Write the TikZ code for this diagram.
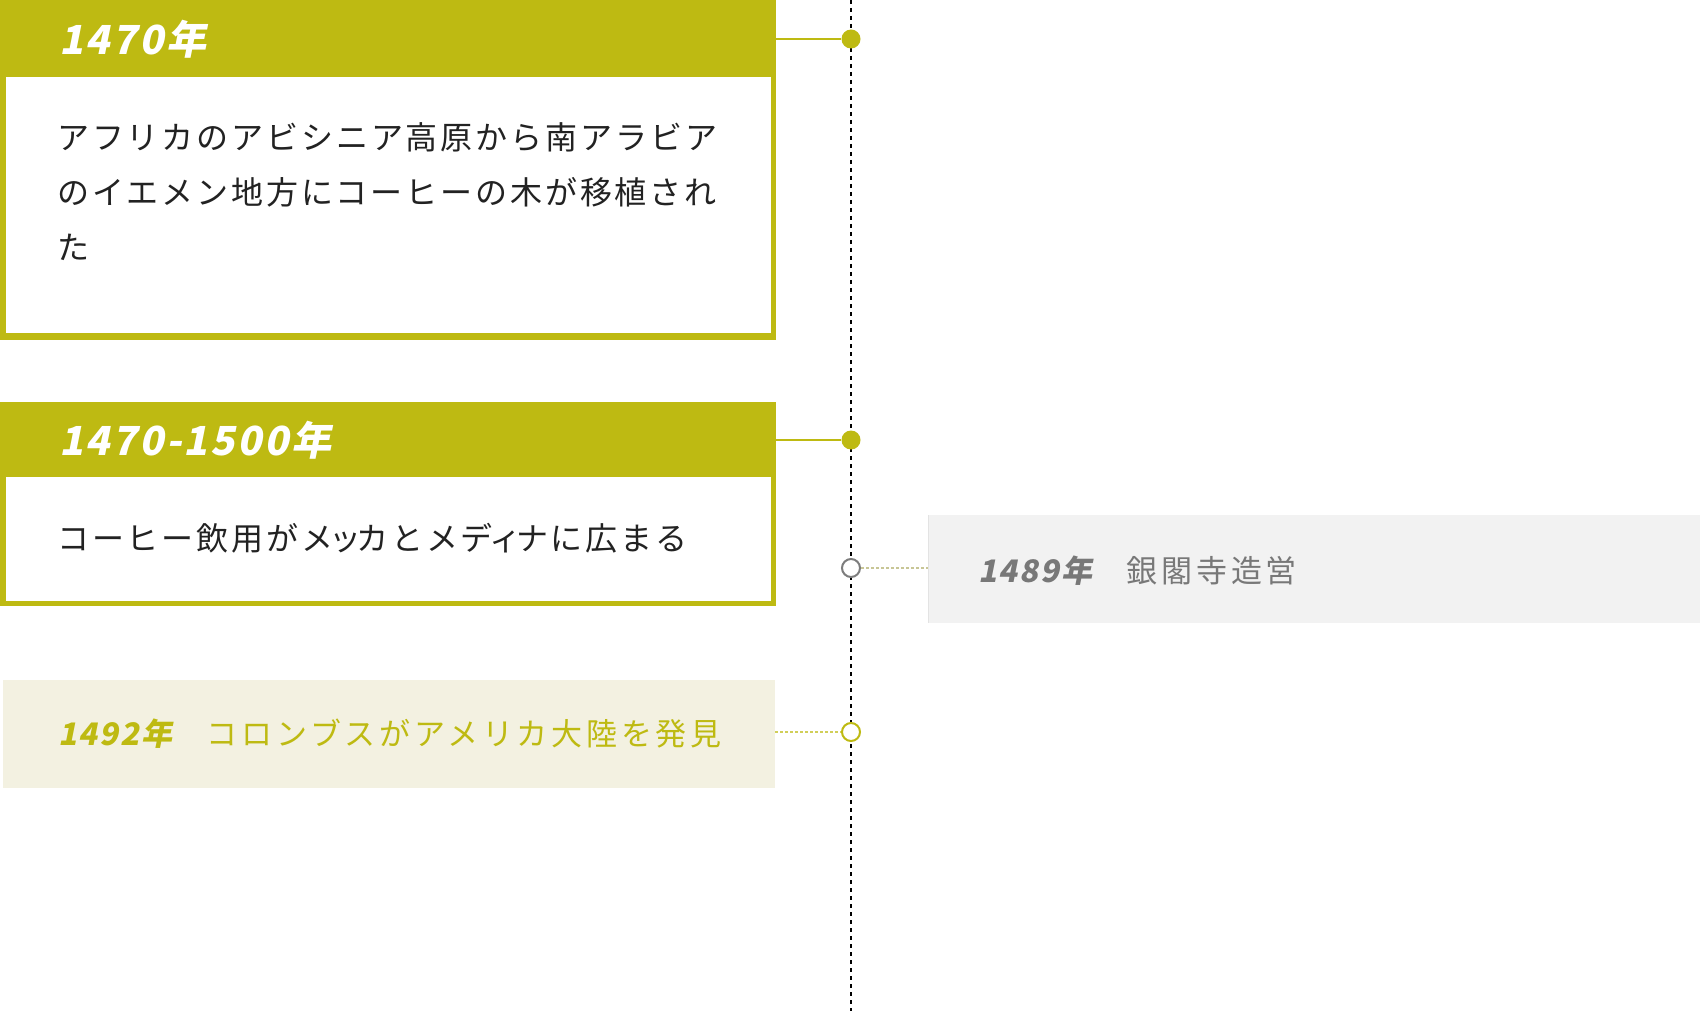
\documentclass[tikz,border=0pt]{standalone}
\usepackage{fontspec}
\setmainfont{Noto Sans CJK JP}
\newfontfamily\jpfont[LetterSpace=9]{Noto Sans CJK JP}
\newfontfamily\evfont[LetterSpace=12]{Noto Sans CJK JP}
\newfontfamily\yrfont[FakeSlant=0.2,LetterSpace=6]{Noto Sans CJK JP}
\definecolor{olv}{RGB}{190,186,18}
\definecolor{beige}{RGB}{243,241,225}
\definecolor{lgray}{RGB}{242,242,242}
\definecolor{gtext}{RGB}{120,120,120}
\definecolor{ink}{RGB}{34,34,34}
\definecolor{ringgray}{RGB}{125,125,125}
\definecolor{dotline}{RGB}{200,198,150}
\newcommand{\smk}[1]{\kern-4pt#1\kern-5pt}
\begin{document}
\begin{tikzpicture}[x=1pt,y=-1pt,
  frame/.style={fill=olv, draw=none, anchor=north west, inner sep=0, minimum width=776pt},
  whitein/.style={fill=white, draw=none, anchor=north west, inner sep=0, minimum width=765.5pt},
  bodytxt/.style={font=\jpfont\fontsize{32}{55}\selectfont, text=ink, anchor=west, align=left, inner sep=0},
  yeartxt/.style={font=\yrfont\bfseries\fontsize{40}{48}\selectfont, text=white, anchor=west, inner sep=0},
  evtxt/.style={font=\evfont\fontsize{31}{40}\selectfont, anchor=west, inner sep=0},
  dot/.style={circle, fill=olv, draw=none, minimum size=19pt, inner sep=0},
  ring/.style={circle, fill=white, line width=2pt, minimum size=18pt, inner sep=0},
  timeline/.style={black, line width=1.8pt, dash pattern=on 4pt off 4pt},
  solidcon/.style={olv, line width=2pt},
  dotcon/.style={dotline, line width=1.2pt, dash pattern=on 3pt off 2pt}
]
\useasboundingbox (0,0) rectangle (1700,1011);
% timeline
\coordinate (ttop) at (851,0);
\coordinate (tbot) at (851,1011);
\draw[timeline] (ttop) -- (tbot);

% box 1
\node[frame, minimum height=340pt] (b1) at (0,0) {};
\node[whitein, minimum height=256pt] (b1in) at (5.5,77) {};
\node[yeartxt] (y1) at (59,39) {1470年};
\node[bodytxt] (t1) at (57,192) {アフリカのアビシニア高原から南アラビア\\のイエメン地方にコーヒーの木が移植され\\た};
\node[dot] (d1) at (851,39) {};
\draw[solidcon] (b1.east |- d1) -- (d1);

% box 2
\node[frame, minimum height=204pt] (b2) at (0,402) {};
\node[whitein, minimum height=124pt] (b2in) at (5.5,477) {};
\node[yeartxt] (y2) at (59,440) {1470-1500年};
\node[bodytxt] (t2) at (57,538) {コーヒー飲用がメ\smk{ッ}カとメデ\smk{ィ}ナに広まる};
\node[dot] (d2) at (851,440) {};
\draw[solidcon] (b2.east |- d2) -- (d2);

% gray event
\node[fill=lgray, draw=none, anchor=north west, inner sep=0, minimum width=773pt, minimum height=108pt] (g) at (928,515) {};
\draw[gray!22, line width=1pt] (g.north west) -- (g.south west);
\node[evtxt, text=gtext] (gt) at (978,571) {{\yrfont\bfseries 1489年}　銀閣寺造営};
\node[ring, draw=ringgray] (r1) at (851,568) {};
\draw[dotcon] (r1) -- (g.west |- r1);

% beige event
\node[fill=beige, draw=none, anchor=north west, inner sep=0, minimum width=772pt, minimum height=108pt] (c) at (3,680) {};
\node[evtxt, text=olv] (ct) at (58,734) {{\yrfont\bfseries 1492年}　コロンブスがアメリカ大陸を発見};
\node[ring, draw=olv] (r2) at (851,732) {};
\draw[dotcon, draw=olv!70] (c.east |- r2) -- (r2);
\end{tikzpicture}
\end{document}
